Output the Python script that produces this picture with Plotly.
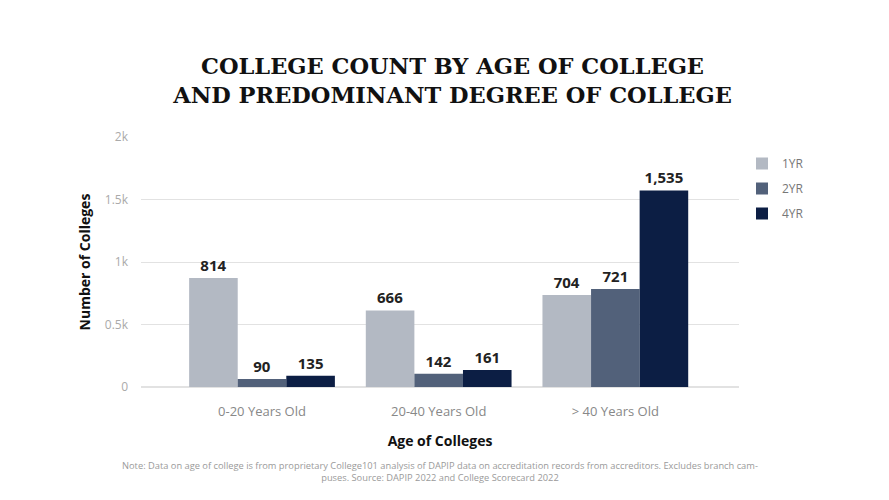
import plotly.graph_objects as go

# --- data ---
age_groups = ["0-20 Years Old", "20-40 Years Old", "> 40 Years Old"]
series_names = ["1YR", "2YR", "4YR"]

# bar heights as drawn in the picture
bar_1yr = [872, 613, 736]
bar_2yr = [64, 106, 784]
bar_4yr = [90, 136, 1573]

# value labels printed above the bars
label_1yr = ["814", "666", "704"]
label_2yr = ["90", "142", "721"]
label_4yr = ["135", "161", "1,535"]

colors = ["#b3b9c3", "#52617a", "#0c1e44"]

TITLE = "COLLEGE COUNT BY AGE OF COLLEGE<br>AND PREDOMINANT DEGREE OF COLLEGE"
NOTE = ("Note: Data on age of college is from proprietary College101 analysis of DAPIP data on accreditation "
        "records from accreditors. Excludes branch cam-<br>puses. Source: DAPIP 2022 and College Scorecard 2022")

BODY_FONT = "Open Sans, Noto Sans, sans-serif"

fig = go.Figure()
for name, ys, labels, col in zip(series_names, [bar_1yr, bar_2yr, bar_4yr],
                                 [label_1yr, label_2yr, label_4yr], colors):
    fig.add_trace(go.Bar(
        name=name, x=age_groups, y=ys, text=labels, legendgroup=name,
        marker=dict(color=col, line=dict(width=0)),
        textposition="outside", cliponaxis=False,
        textfont=dict(family=BODY_FONT, size=15, color="#222222", weight="bold"),
    ))

fig.update_layout(
    width=889, height=500,
    margin=dict(l=133, r=158, t=129, b=121),
    paper_bgcolor="white", plot_bgcolor="white",
    barmode="group", bargap=0.175, bargroupgap=0,
    font=dict(family=BODY_FONT, color="#999999"),
    title=dict(text=TITLE, x=0.5, xanchor="center", y=0.869, yanchor="middle",
               font=dict(family="DejaVu Serif, serif", size=22.5, color="#111111", weight="bold")),
    legend=dict(x=1.005, xanchor="left", y=0.952, yanchor="top",
                font=dict(size=12, color="#777777"), tracegroupgap=6,
                itemwidth=30, bgcolor="rgba(0,0,0,0)"),
    showlegend=True,
)

fig.update_xaxes(
    range=[-0.685, 2.7], showgrid=False, zeroline=False, showline=False, ticks="",
    tickfont=dict(size=13, color="#888888"), ticklabelstandoff=15,
    title=dict(text="Age of Colleges", standoff=17,
               font=dict(size=14, color="#111111", weight="bold")),
)
fig.update_yaxes(
    range=[0, 2000], tickvals=[0, 500, 1000, 1500, 2000],
    ticktext=["0", "0.5k", "1k", "1.5k", "2k"],
    showgrid=True, gridcolor="#e2e2e2", gridwidth=1,
    zeroline=True, zerolinecolor="#e2e2e2", showline=False,
    tickfont=dict(size=12, color="#aaaaaa"), ticklabelstandoff=12,
    title=dict(text="Number of Colleges", standoff=10,
               font=dict(size=14, color="#111111", weight="bold")),
)

fig.add_annotation(
    text=NOTE, xref="paper", yref="paper", x=0.5, y=-0.28, xanchor="center", yanchor="top",
    showarrow=False, align="center",
    font=dict(size=9.3, color="#9a9a9a"),
)

fig.write_html("out.html")
